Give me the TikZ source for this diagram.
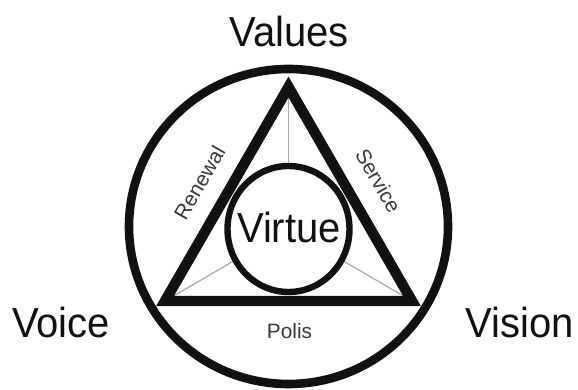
\documentclass[tikz,border=0pt]{standalone}
\usepackage{fontspec}
\setmainfont{Liberation Sans}
\definecolor{vvInk}{HTML}{111111}
\definecolor{vvMuted}{HTML}{383838}
\definecolor{vvSpoke}{HTML}{A8A8A8}
\tikzset{
  vv canvas/.style={fill=white},
  vv ring/.style={draw=vvInk, line width=4.3pt},
  vv triangle/.style={draw=vvInk, line width=5.2pt, line join=miter},
  vv core/.style={draw=vvInk, fill=white, line width=3.2pt},
  vv spoke/.style={draw=vvSpoke, line width=.6pt},
  vv label/.style={font=\fontsize{20}{24}\selectfont, text=vvInk, inner sep=0pt, yscale=1.05},
  vv side label/.style={font=\fontsize{10.4}{12}\selectfont, text=vvMuted, inner sep=0pt}
}

\begin{document}
\begin{tikzpicture}[x=.5pt,y=.5pt]
  \path[vv canvas] (0,0) rectangle (578,390);
  \useasboundingbox (0,0) rectangle (578,390);
  \coordinate (C) at (288.5,161);
  \coordinate (T) at (288.5,303);
  \coordinate (L) at (165,89);
  \coordinate (R) at (412,89);
  \coordinate (O) at (288.5,163.5);

  \draw[vv spoke] (T) -- (C);
  \draw[vv spoke] (L) -- (C);
  \draw[vv spoke] (R) -- (C);
  \draw[vv core] (C) ellipse [x radius=61, y radius=63];
  \draw[vv triangle] (L) -- (T) -- (R) -- cycle;
  \draw[vv ring] (O) ellipse [x radius=159.5, y radius=157.5];

  \node[vv label] (values) at (289,359) {Values};
  \node[vv label] (voice) at (61,68) {Voice};
  \node[vv label] (vision) at (520,68) {Vision};
  \node[vv label] (virtue) at (289,163) {Virtue};
  \node[vv side label] (polis) at (289.5,59) {Polis};
  \node[vv side label, rotate=60] (renewal) at (199.5,207.5) {Renewal};
  \node[vv side label, rotate=-60] (service) at (378.5,209.5) {Service};
\end{tikzpicture}
\end{document}
